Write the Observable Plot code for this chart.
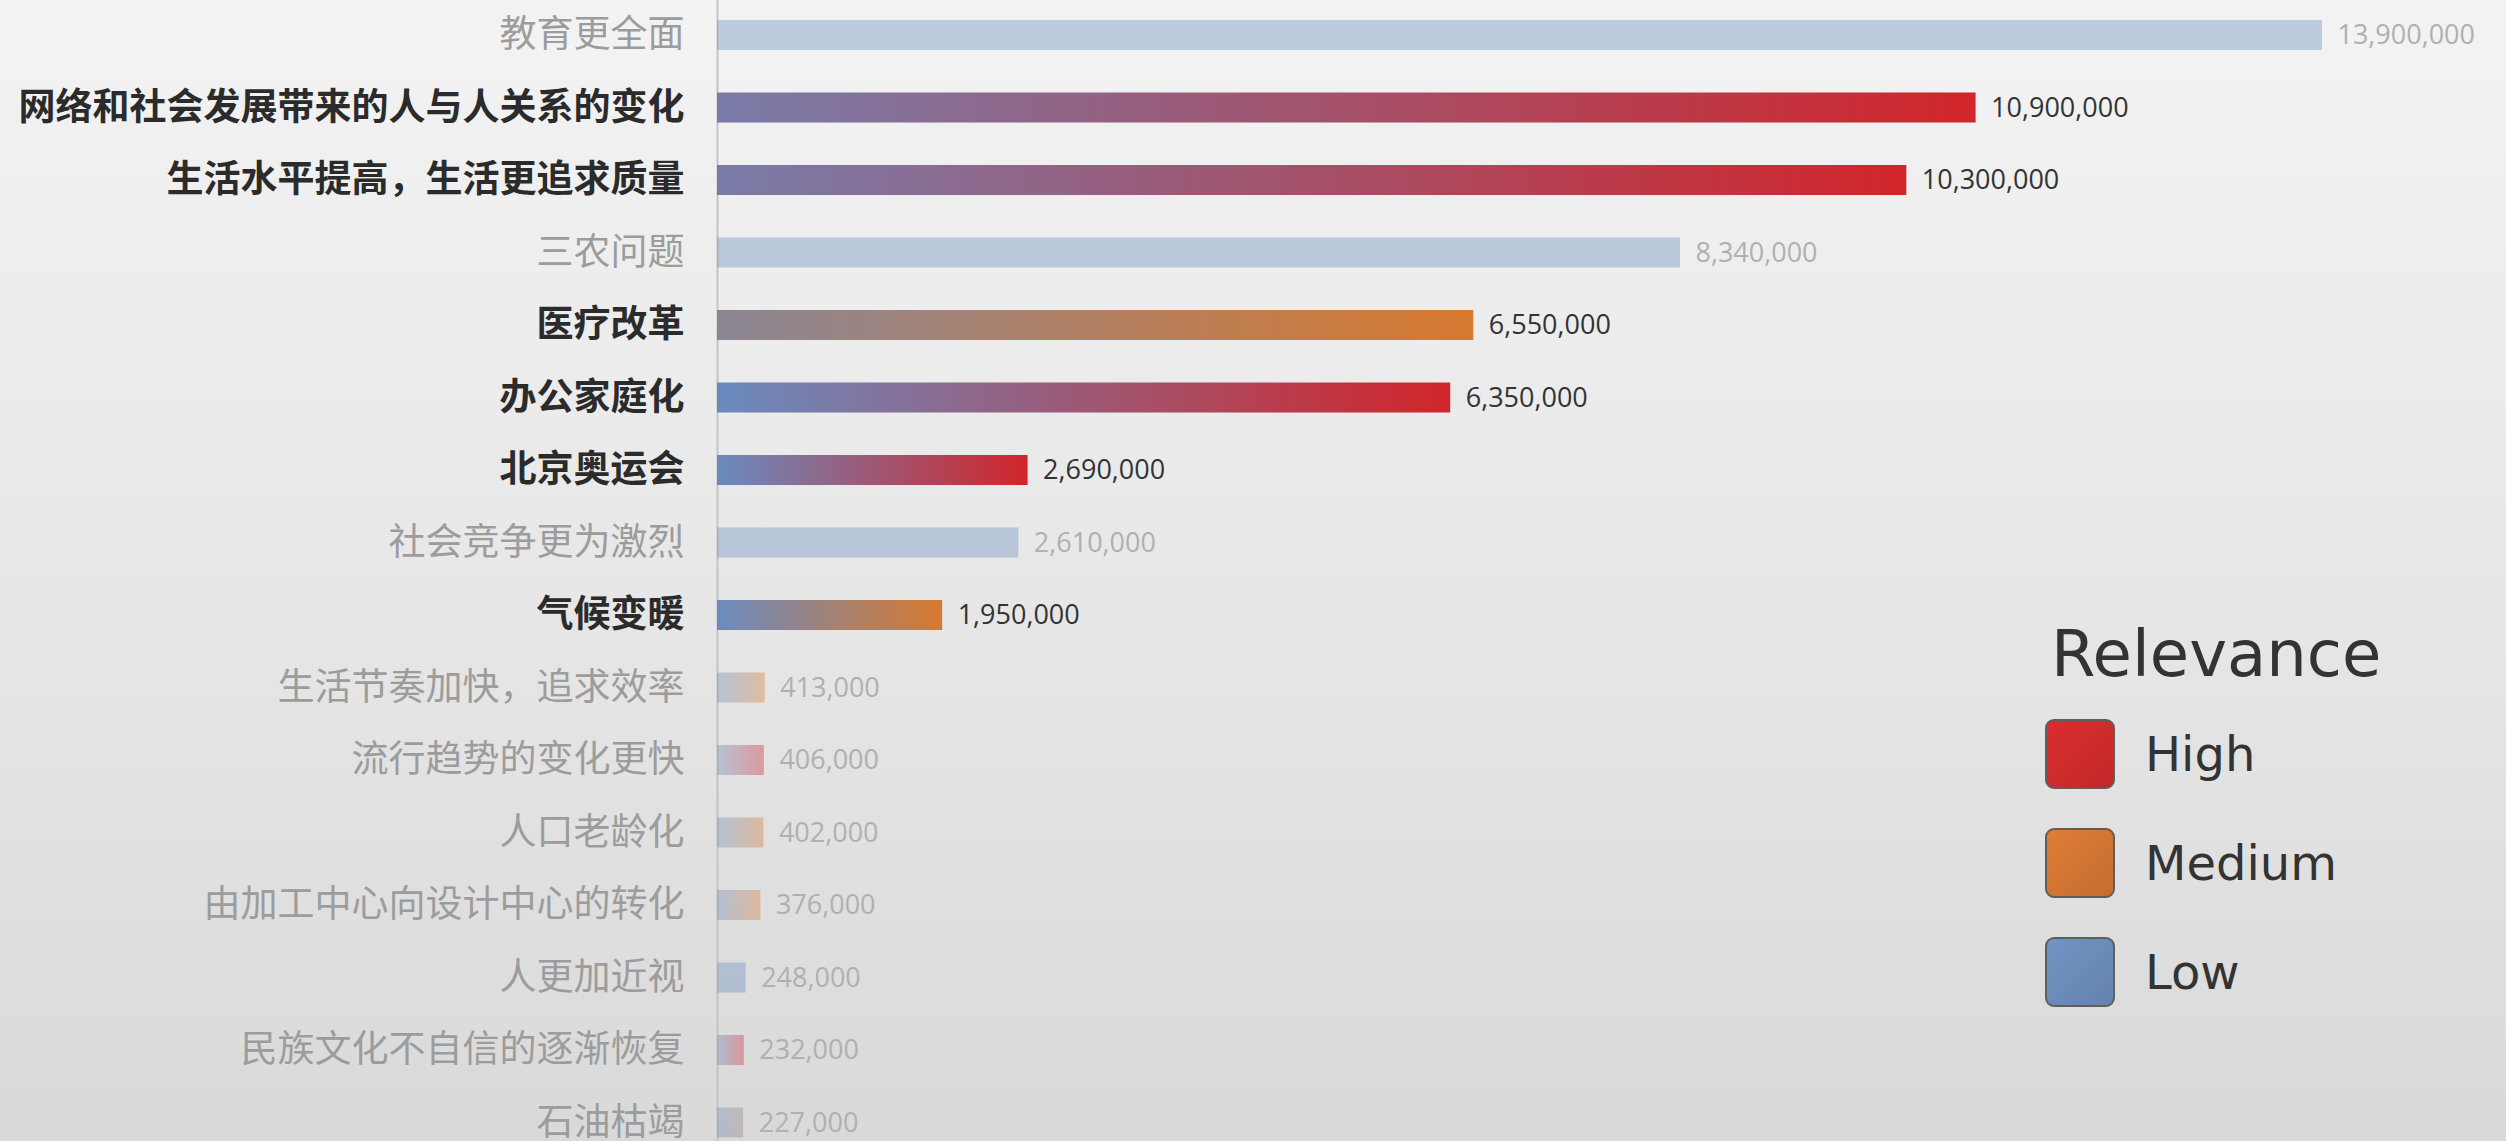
<!DOCTYPE html>
<html>
<head>
<meta charset="utf-8">
<script src="https://cdn.jsdelivr.net/npm/d3@7"></script>
<script src="https://cdn.jsdelivr.net/npm/@observablehq/plot@0.6"></script>
<style>
  html, body { margin: 0; padding: 0; }
  #wrap {
    position: relative; width: 2506px; height: 1141px; overflow: hidden;
    background: linear-gradient(to bottom, #f3f3f3 0%, #e9e9e9 45%, #d9d9d9 100%);
  }
  #wrap svg { display: block; }
</style>
</head>
<body>
<div id="wrap"></div>
<script>
// ---- data ----
const topics = [
  "教育更全面",
  "网络和社会发展带来的人与人关系的变化",
  "生活水平提高，生活更追求质量",
  "三农问题",
  "医疗改革",
  "办公家庭化",
  "北京奥运会",
  "社会竞争更为激烈",
  "气候变暖",
  "生活节奏加快，追求效率",
  "流行趋势的变化更快",
  "人口老龄化",
  "由加工中心向设计中心的转化",
  "人更加近视",
  "民族文化不自信的逐渐恢复",
  "石油枯竭"
];
const values = [13900000, 10900000, 10300000, 8340000, 6550000, 6350000, 2690000, 2610000,
                1950000, 413000, 406000, 402000, 376000, 248000, 232000, 227000];
const relevance = ["Low", "High", "High", "Low", "Medium", "High", "High", "Low",
                   "Medium", "Medium", "High", "Medium", "Medium", "Low", "High", "Medium"];
const highlighted = [false, true, true, false, true, true, true, false,
                     true, false, false, false, false, false, false, false];
// how far the left end of each bar's gradient already leans to its relevance colour
const startMix = [0, 0.15, 0.15, 0, 0.3, 0, 0, 0, 0, 0, 0, 0, 0, 0, 0, 0];
// how far the right end reaches the relevance colour
const endMix = [1, 1, 1, 1, 1, 1, 1, 1, 1, 1, 1, 1, 1, 1, 1, 0.45];

const relevanceLevels = ["High", "Medium", "Low"];
const relevanceColors = ["#d1252a", "#d7792f", "#6a8bbf"];
const legendSwatchColors = ["#cc2a2c", "#cf7432", "#6a8ab6"];
const baseBlue = "#6a8bbf";
const legendTitle = "Relevance";

// ---- build table ----
const colorOf = Object.fromEntries(relevanceLevels.map((k, i) => [k, relevanceColors[i]]));
const rows = topics.map((t, i) => ({
  i, topic: t, value: values[i], rel: relevance[i], hi: highlighted[i],
  c0: d3.interpolateRgb(baseBlue, colorOf[relevance[i]])(startMix[i]),
  c1: d3.interpolateRgb(baseBlue, colorOf[relevance[i]])(endMix[i]),
  grad: `url(#grad-${i})`
}));
const hiRows = rows.filter(d => d.hi);
const loRows = rows.filter(d => !d.hi);
const fmt = d3.format(",");

const W = 2506, H = 1141;
const cjk = "'Noto Sans CJK SC', 'Noto Sans', sans-serif";
const num = "'Open Sans', 'Liberation Sans', sans-serif";

const chart = Plot.plot({
  width: W,
  height: H,
  marginLeft: 717,
  marginRight: 57,
  marginTop: 20,
  marginBottom: 3.5,
  style: { background: "transparent", overflow: "visible" },
  x: { domain: [0, 15000000], axis: null },
  y: { domain: topics, axis: null, paddingInner: 0.586, paddingOuter: 0, round: false },
  color: { type: "identity" },
  marks: [
    Plot.ruleX([0], { stroke: "#c4c4c4", strokeWidth: 2, insetTop: -20, insetBottom: -4 }),
    Plot.ruleX(hiRows, { x: 0, y: "topic", stroke: "#6e6e6e", strokeWidth: 2.5, insetTop: -18, insetBottom: -18 }),
    Plot.barX(loRows, { x: "value", y: "topic", fill: "grad", fillOpacity: 0.38 }),
    Plot.barX(hiRows, { x: "value", y: "topic", fill: "grad" }),
    Plot.text(hiRows, { x: 0, y: "topic", text: "topic", dx: -33, textAnchor: "end",
      fill: "#2b2b2b", fontWeight: 700, fontSize: 37, fontFamily: cjk }),
    Plot.text(loRows, { x: 0, y: "topic", text: "topic", dx: -33, textAnchor: "end",
      fill: "#9c9c9c", fontWeight: 400, fontSize: 37, fontFamily: cjk }),
    Plot.text(hiRows, { x: "value", y: "topic", text: d => fmt(d.value), dx: 15, textAnchor: "start",
      fill: "#333333", fontSize: 27, fontFamily: num }),
    Plot.text(loRows, { x: "value", y: "topic", text: d => fmt(d.value), dx: 15, textAnchor: "start",
      fill: "#b0b0b0", fontSize: 27, fontFamily: num })
  ]
});

document.getElementById("wrap").appendChild(chart);

// gradient definitions for each bar, derived from the data
const svg = d3.select(chart.tagName.toLowerCase() === "svg" ? chart : chart.querySelector("svg"));
const defs = svg.insert("defs", ":first-child");
rows.forEach(d => {
  const g = defs.append("linearGradient").attr("id", `grad-${d.i}`)
    .attr("x1", "0%").attr("x2", "100%").attr("y1", "0%").attr("y2", "0%");
  g.append("stop").attr("offset", "0%").attr("stop-color", d.c0);
  g.append("stop").attr("offset", "100%").attr("stop-color", d.c1);
});

// legend (HTML overlay on the right)
const legend = d3.select("#wrap").append("div")
  .style("position", "absolute").style("left", "2045px").style("top", "622px")
  .style("font-family", "'DejaVu Sans', Verdana, sans-serif").style("color", "#333");
legend.append("div").text(legendTitle)
  .style("font-size", "64px").style("line-height", "64px").style("padding-left", "6px");
const items = legend.append("div").style("margin-top", "33px");
relevanceLevels.forEach((lvl, i) => {
  const row = items.append("div")
    .style("display", "flex").style("align-items", "center")
    .style("height", "70px").style("margin-bottom", "39px");
  const c = d3.color(legendSwatchColors[i]);
  row.append("div")
    .style("width", "70px").style("height", "70px").style("box-sizing", "border-box")
    .style("border", "2px solid #5e5e5e").style("border-radius", "9px")
    .style("background", `linear-gradient(135deg, ${c.brighter(0.2)}, ${c.darker(0.15)})`);
  row.append("div").text(lvl)
    .style("margin-left", "30px").style("font-size", "48px").style("line-height", "48px");
});
</script>
</body>
</html>
